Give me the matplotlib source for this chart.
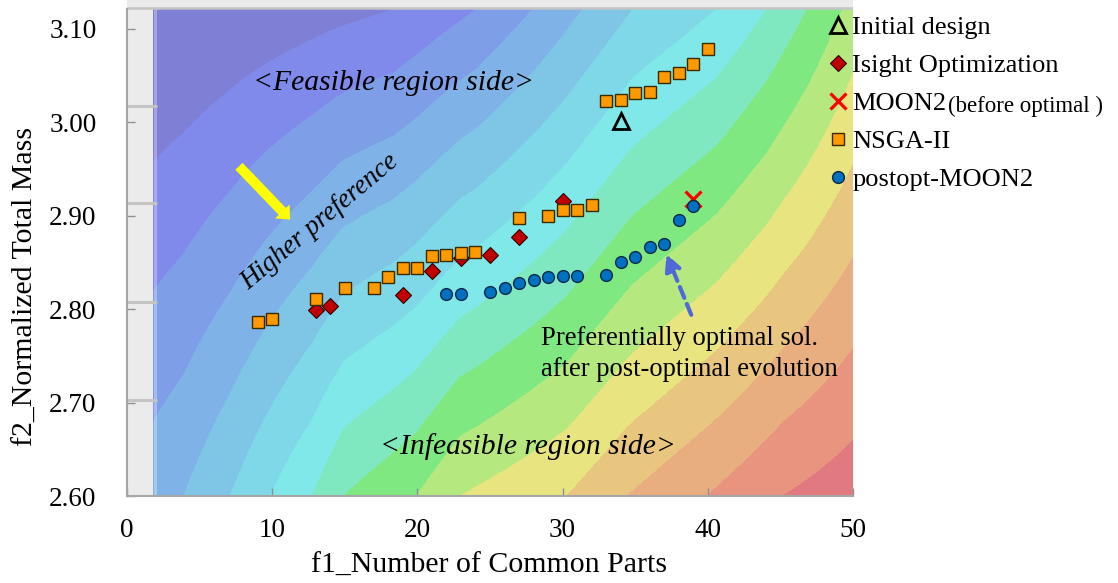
import numpy as np
import matplotlib
matplotlib.use("Agg")
import matplotlib.pyplot as plt
from matplotlib.patches import FancyArrowPatch

plt.rcParams['font.family'] = ['Liberation Serif', 'DejaVu Serif']

# ---------------- data ----------------
nsga_x = [9, 10, 13, 15, 17, 18, 19, 20, 21, 22, 23, 24, 27, 29, 30, 31, 32,
          33, 34, 35, 36, 37, 38, 39, 40]
nsga_y = [2.786, 2.789, 2.811, 2.823, 2.823, 2.834, 2.844, 2.844, 2.857, 2.858,
          2.860, 2.861, 2.898, 2.900, 2.906, 2.906, 2.912,
          3.023, 3.024, 3.031, 3.033, 3.049, 3.053, 3.063, 3.079]
isight_x = [13, 14, 19, 21, 23, 25, 27, 30]
isight_y = [2.799, 2.803, 2.815, 2.841, 2.855, 2.858, 2.877, 2.916]
post_x = [22, 23, 25, 26, 27, 28, 29, 30, 31, 33, 34, 35, 36, 37, 38, 39]
post_y = [2.816, 2.816, 2.818, 2.823, 2.828, 2.831, 2.834, 2.835, 2.835,
          2.837, 2.851, 2.856, 2.867, 2.870, 2.896, 2.910]
moon2_x = [39]
moon2_y = [2.918]
init_x = [34]
init_y = [3.001]

x_ticks = [0, 10, 20, 30, 40, 50]
y_ticks = [2.60, 2.70, 2.80, 2.90, 3.00, 3.10]
y_tick_labels = ["2.60", "2.70", "2.80", "2.90", "3.00", "3.10"]

# background response surface: level positions read along top and bottom edges
bg_top_x = [0, 18.4, 24.1, 27.95, 31.4, 34.85, 40.65, 44.1, 46.85, 49.3, 50]
bg_top_lvl = [-0.3, 1, 2, 3, 4, 5, 6, 7, 8, 9, 9.3]
bg_bot_x = [0, 3.9, 7.1, 9.85, 12.75, 14.95, 19.95, 22.95, 30.3, 34.45, 39.95, 45.2, 50]
bg_bot_lvl = [3.2, 4, 5, 6, 7, 8, 9, 10, 11, 12, 13, 14, 14.6]
band_colors = ['#7f7fd6', '#7f8aea', '#7f9ee8', '#7fb2e6', '#7fc6e6', '#7fd8e8',
               '#80e8e8', '#80e8c0', '#80e880', '#b6e880', '#e8e480', '#e8c680',
               '#e8ae80', '#e8947f', '#e07a80']
gray_lines_y = [3.018, 2.914, 2.808, 2.703]

X_MIN, X_MAX = 0, 50
Y_MIN, Y_MAX = 2.60, 3.131
SURF_X0, SURF_Y1 = 1.85, 3.121

W, H = 1118, 583

# ---------------- figure ----------------
fig = plt.figure(figsize=(W / 100, H / 100), dpi=100)
ax = fig.add_axes([127 / W, 87 / H, 726 / W, 496 / H])
ax.set_facecolor('#ebebeb')
ax.set_xlim(X_MIN, X_MAX)
ax.set_ylim(Y_MIN, Y_MAX)

xs = np.linspace(SURF_X0, X_MAX, 600)
ys = np.linspace(Y_MIN, SURF_Y1, 400)
lt = np.interp(xs, bg_top_x, bg_top_lvl)
lb = np.interp(xs, bg_bot_x, bg_bot_lvl)
s = (ys - Y_MIN) / (SURF_Y1 - Y_MIN)
L = lb[None, :] + (lt - lb)[None, :] * s[:, None]
levels = [-50] + list(range(1, 15)) + [50]
ax.contourf(xs, ys, L, levels=levels, colors=band_colors, antialiased=False, zorder=0)
ax.axvspan(SURF_X0, 2.1, ymin=0, ymax=(SURF_Y1 - Y_MIN) / (Y_MAX - Y_MIN),
           color='white', alpha=0.3, lw=0, zorder=0.5)

# gray frame artefacts
ax.hlines(gray_lines_y, 0, 2.1, colors='#c4c4c4', lw=2.2, zorder=1)
ax.axhline(SURF_Y1 + 0.001, color='#c4c4c4', lw=1.8, zorder=1)

# series
ax.plot(isight_x, isight_y, ls='none', marker='D', ms=8, mfc='#c00000', mec='#300000',
        mew=0.8, zorder=3, label='Isight Optimization')
ax.plot(nsga_x, nsga_y, ls='none', marker='s', ms=8.3, mfc='#ff9900', mec='#3a2a00',
        mew=1.0, zorder=4, label='NSGA-II')
ax.plot(moon2_x, moon2_y, ls='none', marker='x', ms=11, mec='#ff0000', mew=2.3,
        zorder=5, label='MOON2')
ax.plot(post_x, post_y, ls='none', marker='o', ms=8.5, mfc='#0070c0', mec='#0a2a4a',
        mew=1.0, zorder=6, label='postopt-MOON2')
ax.plot(init_x, init_y, ls='none', marker='^', ms=11.5, mfc='none', mec='black',
        mew=2.0, zorder=6, label='Initial design')

# arrows
ax.add_patch(FancyArrowPatch((7.71, 2.953), (11.23, 2.896),
                             arrowstyle='simple,head_length=0.8,head_width=1.45,tail_width=0.72',
                             mutation_scale=10, color='#ffff00', lw=0,
                             shrinkA=0, shrinkB=0, zorder=2))
ax.annotate('', xy=(37.15, 2.859), xytext=(38.86, 2.794),
            arrowprops=dict(arrowstyle='-|>,head_length=0.6,head_width=0.3',
                            lw=3, ls=(0, (2.8, 1.6)), color='#4f6ad8',
                            mutation_scale=16, shrinkA=0, shrinkB=0), zorder=2)

# texts
ax.text(18.34, 3.042, '<Feasible region side>', style='italic', fontsize=21.3,
        ha='center', va='center', zorder=7)
ax.text(27.6, 2.653, '<Infeasible region side>', style='italic', fontsize=21.3,
        ha='center', va='center', zorder=7)
ax.text(13.3, 2.893, 'Higher preference', style='italic', fontsize=19.5,
        rotation=40, ha='center', va='center', rotation_mode='anchor', zorder=7)
ax.text(28.49, 2.752, 'Preferentially optimal sol.\nafter post-optimal evolution',
        fontsize=19.2, ha='left', va='center', linespacing=1.3, zorder=7)

# axes styling
for sp in ['top', 'right']:
    ax.spines[sp].set_visible(False)
for sp in ['left', 'bottom']:
    ax.spines[sp].set_color('#a6a6a6')
    ax.spines[sp].set_linewidth(1.5)
ax.spines['left'].set_bounds(Y_MIN, SURF_Y1)
ax.set_xticks(x_ticks)
ax.set_xticklabels([str(v) for v in x_ticks])
ax.set_yticks(y_ticks)
ax.set_yticklabels(y_tick_labels)
ax.tick_params(axis='x', direction='in', length=6, width=1, color='#909090',
               labelsize=19.5, pad=16)
ax.tick_params(axis='y', direction='in', length=6, width=1, color='#909090',
               labelsize=19.5, pad=22)

ax.set_xlabel('f1_Number of Common Parts', fontsize=21.5)
ax.xaxis.set_label_coords(0.4986, -0.115)
ax.set_ylabel('f2_Normalized Total Mass', fontsize=21.5)
ax.yaxis.set_label_coords(-0.121, 0.423)

# legend
hdl, lbl = ax.get_legend_handles_labels()
order = ['Initial design', 'Isight Optimization', 'MOON2', 'NSGA-II', 'postopt-MOON2']
hmap = dict(zip(lbl, hdl))
leg = ax.legend([hmap[k] for k in order], order, loc='upper left',
                bbox_to_anchor=(830 / W, 1 - 16 / H), bbox_transform=fig.transFigure,
                frameon=False, fontsize=19, handlelength=0.6, handletextpad=0.25,
                borderpad=0, borderaxespad=0, labelspacing=0.55, numpoints=1)
leg.set_zorder(10)

fig.canvas.draw()
moon_txt = leg.get_texts()[2]
bb = moon_txt.get_window_extent()
fig.text((bb.x1 + 1) / W, (bb.y0 + bb.y1) / 2 / H - 1.5 / H, '(before optimal )',
         fontsize=16.5, ha='left', va='center')

fig.savefig('out.png', dpi=100)
